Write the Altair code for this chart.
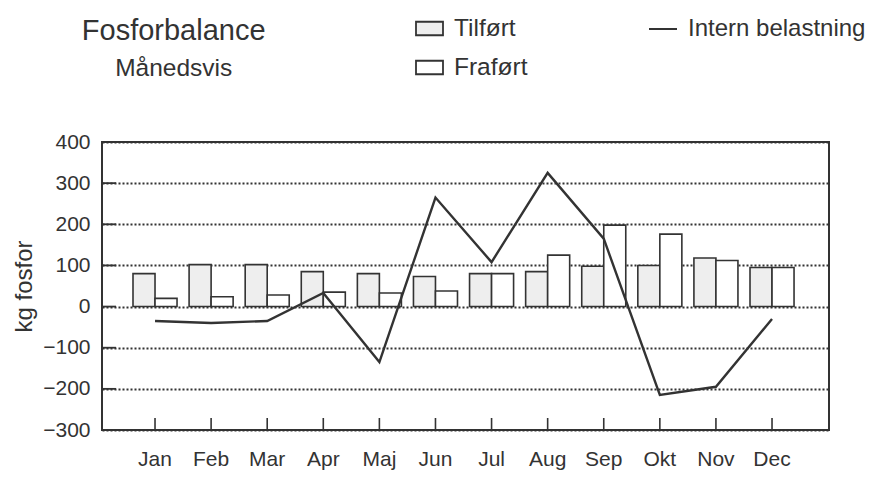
import altair as alt
import pandas as pd

months = ["Jan", "Feb", "Mar", "Apr", "Maj", "Jun", "Jul", "Aug", "Sep", "Okt", "Nov", "Dec"]
tilfort = [80, 102, 102, 85, 80, 73, 80, 85, 98, 100, 118, 95]
frafort = [20, 24, 28, 35, 33, 38, 80, 125, 198, 176, 112, 95]
intern = [-35, -40, -35, 33, -135, 265, 108, 325, 165, -215, -195, -30]
bar_types = ["Tilført", "Fraført"]
line_name = "Intern belastning"
y_ticks = [-300, -200, -100, 0, 100, 200, 300, 400]
inner_ticks = [300, 200, 100, 0, -100, -200]

FONT = "Liberation Sans"
INK = "#333333"

bars_df = pd.DataFrame({
    "Måned": months * 2,
    "Type": [bar_types[0]] * len(months) + [bar_types[1]] * len(months),
    "kg": tilfort + frafort,
})
line_df = pd.DataFrame({"Måned": months, "Serie": [line_name] * len(months), "kg": intern})
ytick_df = pd.DataFrame({"kg": inner_ticks})

xscale = alt.Scale(paddingInner=0.215, paddingOuter=0.588, align=0.47)
x = alt.X("Måned:N", sort=months, scale=xscale,
          axis=alt.Axis(title=None, ticks=False, domain=False, labelAngle=0,
                        labelPadding=18, labelFontSize=21, labelColor=INK, labelFont=FONT))
yscale = alt.Scale(domain=[-300, 400], nice=False)
y = alt.Y("kg:Q", scale=yscale, stack=None,
          axis=alt.Axis(values=y_ticks, title="kg fosfor", ticks=False, domain=False,
                        grid=True, gridDash=[2, 2], gridColor=INK, gridWidth=1.8, gridOpacity=1,
                        labelPadding=12, labelFontSize=21, labelColor=INK, labelFont=FONT,
                        titleFontSize=24, titleFont=FONT, titleColor=INK, titleFontWeight="normal",
                        titlePadding=6))

bars = alt.Chart(bars_df).mark_bar(stroke=INK, strokeWidth=1.6).encode(
    x=x,
    xOffset=alt.XOffset("Type:N", sort=bar_types),
    y=y,
    fill=alt.Fill("Type:N", sort=bar_types,
                  scale=alt.Scale(domain=bar_types, range=["#eeeeee", "#ffffff"]),
                  legend=alt.Legend(title=None, orient="none", legendX=313, legendY=-128,
                                    symbolType="M-1,-0.5H1V0.5H-1Z", symbolSize=729,
                                    symbolStrokeColor=INK, symbolStrokeWidth=1.8,
                                    labelFontSize=24.5, labelFont=FONT, labelColor=INK,
                                    labelOffset=10, rowPadding=13, padding=0, labelLimit=300)),
)

yticks = alt.Chart(ytick_df).mark_rule(color=INK, strokeWidth=1.8).encode(
    y=alt.Y("kg:Q", scale=yscale), x=alt.value(0), x2=alt.value(14)
)
xticks = alt.Chart(line_df).mark_rule(color=INK, strokeWidth=1.6).encode(
    x=alt.X("Måned:N", sort=months, scale=xscale), y=alt.value(288), y2=alt.value(276)
)

line = alt.Chart(line_df).mark_line(strokeWidth=2.4).encode(
    x=alt.X("Måned:N", sort=months, scale=xscale),
    y=alt.Y("kg:Q", scale=yscale),
    stroke=alt.Stroke("Serie:N", scale=alt.Scale(domain=[line_name], range=[INK]),
                      legend=alt.Legend(title=None, orient="none", legendX=546, legendY=-128,
                                        symbolType="stroke", symbolSize=784,
                                        symbolStrokeWidth=2, labelFontSize=24, labelFont=FONT,
                                        labelColor=INK, labelOffset=10, padding=0,
                                        labelLimit=300)),
)

chart = alt.layer(bars, yticks, xticks, line).properties(
    width=727,
    height=288,
    background="white",
    padding={"left": 94, "top": 134, "right": 38, "bottom": 40},
    autosize=alt.AutoSizeParams(type="none"),
    title=alt.TitleParams(text="Fosforbalance", subtitle="Månedsvis", anchor="start",
                          align="center", dx=161, dy=70, fontSize=29, subtitleFontSize=24.5,
                          color=INK, subtitleColor=INK, font=FONT, subtitleFont=FONT,
                          fontWeight="normal", subtitlePadding=11),
).configure_view(stroke=INK, strokeWidth=2)

chart.save("out.html", embed_options={"renderer": "svg", "actions": False})
